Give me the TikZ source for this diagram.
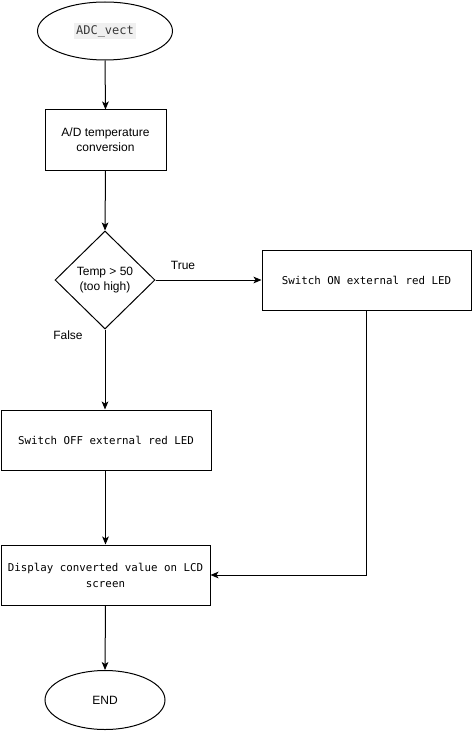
\documentclass[tikz,border=0pt]{standalone}
\usepackage{fontspec}
\setmainfont{Liberation Sans}
\setsansfont{Liberation Sans}
\setmonofont{DejaVu Sans Mono}
\usetikzlibrary{shapes.geometric,arrows.meta}
\definecolor{adcbg}{HTML}{F0F0F0}
\definecolor{adcfg}{HTML}{3A3A3A}
\tikzset{
  base/.style={draw=black, line width=0.75pt, inner sep=0pt, align=center},
  procbox/.style={base, rectangle, minimum height=45pt},
  term/.style={base, ellipse},
  decis/.style={base, diamond, minimum width=75pt, minimum height=73.5pt},
  sans/.style={font=\fontsize{9pt}{11pt}\selectfont},
  mono/.style={font=\fontsize{8.1pt}{12pt}\selectfont\ttfamily},
  conn/.style={line width=0.75pt, -{Stealth[length=6pt,width=5pt,inset=1.5pt]}},
  lbl/.style={font=\fontsize{9pt}{10pt}\selectfont, inner sep=0pt}
}
\begin{document}
\begin{tikzpicture}[x=0.75pt,y=-0.75pt]
\useasboundingbox (0,0) rectangle (472,731);
\node[term, minimum width=101.25pt, minimum height=43.5pt] (start) at (105,31)
  {\setlength\fboxsep{1.5pt}\colorbox{adcbg}{\textcolor{adcfg}{\fontsize{9pt}{11pt}\selectfont\ttfamily ADC\_vect}}};
\node[procbox, sans, minimum width=90.75pt] (conv) at (105.5,140) {A/D temperature\\conversion};
\node[decis, sans] (dec) at (105,280) {Temp > 50\\(too high)};
\node[procbox, mono, minimum width=156.75pt] (on) at (366.5,280) {Switch ON external red LED};
\node[procbox, mono, minimum width=157.5pt] (off) at (106,440) {Switch OFF external red LED};
\node[procbox, mono, minimum width=156.75pt] (disp) at (105.5,575) {Display converted value on LCD\\screen};
\node[term, sans, minimum width=90pt, minimum height=44.25pt] (end) at (105,700) {END};
\node[lbl] (ltrue) at (183,265) {True};
\node[lbl] (lfalse) at (68,335) {False};
\draw[conn] (start.south) -- (conv.north);
\draw[conn] (conv.south) -- (dec.north);
\draw[conn] (dec.east) -- (on.west);
\draw[conn] (dec.south) -- (dec.south |- off.north);
\draw[conn] (off.south -| disp.north) -- (disp.north);
\draw[conn] (on.south) |- (disp.east);
\draw[conn] (disp.south) -- (end.north);
\end{tikzpicture}
\end{document}
